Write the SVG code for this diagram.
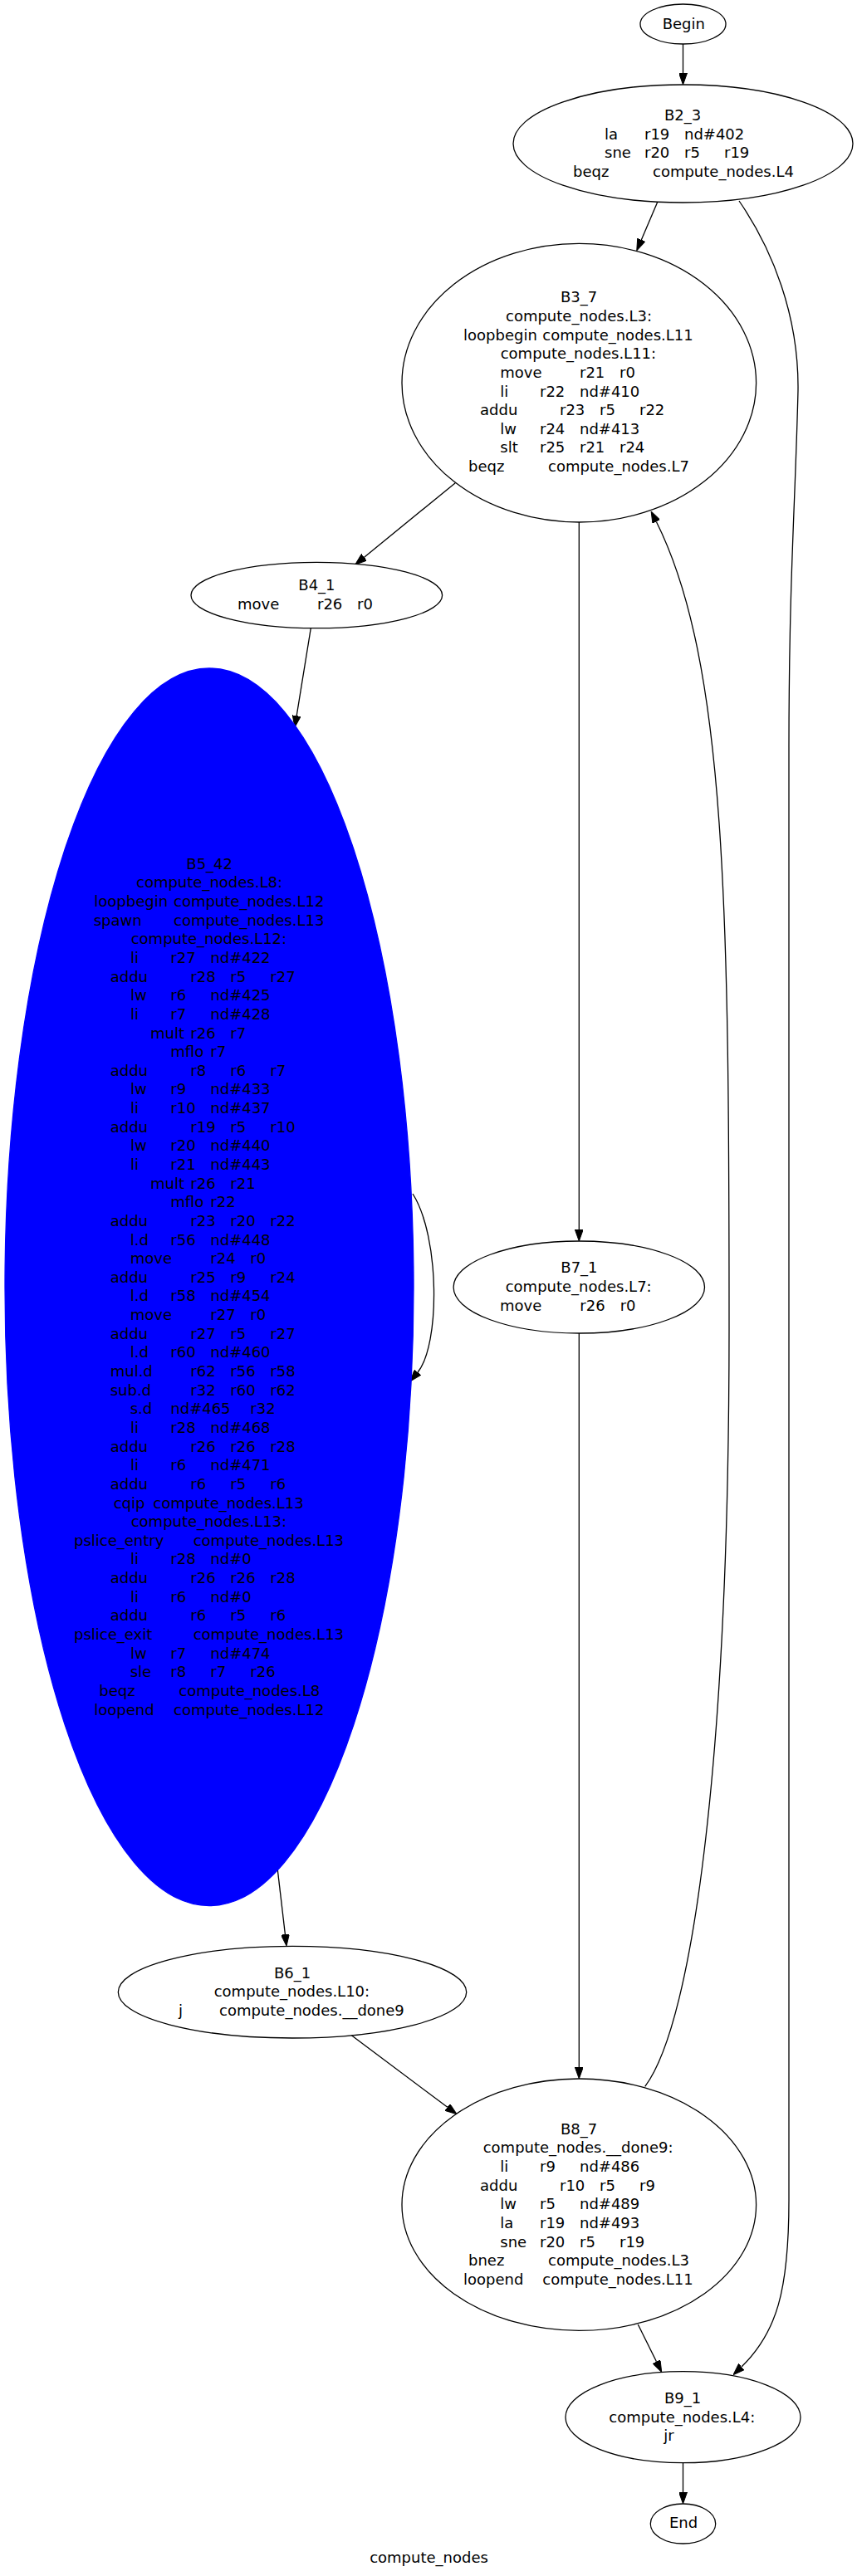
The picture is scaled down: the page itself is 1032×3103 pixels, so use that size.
<svg xmlns="http://www.w3.org/2000/svg" width="1032" height="3103" viewBox="0 0 1032 3103">
<style>
text{font-family:"DejaVu Sans","Liberation Sans",sans-serif;font-size:18px;fill:#000}
.n{fill:#fff;stroke:#000;stroke-width:1.3}
.blue{fill:#0000ff;stroke:#0000ff;stroke-width:1.3}
.e{fill:none;stroke:#000;stroke-width:1.3;marker-end:url(#ah)}
</style>
<defs>
<marker id="ah" viewBox="0 0 14 10" refX="0" refY="5" markerWidth="14" markerHeight="10" markerUnits="userSpaceOnUse" orient="auto">
<path d="M0,0 L14,5 L0,10 z" fill="#000" stroke="#000" stroke-width="1"/>
</marker>
</defs>
<rect width="1032" height="3103" fill="#fff"/>
<g id="edges">
<path class="e" d="M822.5,53 L822.5,88"/>
<path class="e" d="M791.7,243.5 L772.3,288.9"/>
<path class="e" d="M890,242 C930,300 962,380 961,470 C958,600 950,700 950,900 L950,2650 C950,2760 935,2810 893,2851"/>
<path class="e" d="M548.3,581.7 L438.6,671.2"/>
<path class="e" d="M697.3,629 L697.3,1481"/>
<path class="e" d="M374.3,756.7 L357.2,862.2"/>
<path class="e" d="M497,1438 C530,1490 530,1620 503,1653"/>
<path class="e" d="M334.3,2252.3 L343.4,2330.1"/>
<path class="e" d="M423.3,2451.7 L538.8,2538.3"/>
<path class="e" d="M697.3,1606 L697.3,2490"/>
<path class="e" d="M776.7,2513.3 C836.7,2433 878,2100 878,1600 C878,1100 875,798 790.4,628.5"/>
<path class="e" d="M768.3,2800 L790.5,2844.8"/>
<path class="e" d="M822.5,2966.7 L822.5,3002"/>
</g>
<g id="Begin">
<ellipse class="n" cx="822.5" cy="29" rx="51.5" ry="24"/>
<text x="797.7" y="35">Begin</text>
</g>
<g id="B2_3">
<ellipse class="n" cx="822.5" cy="173" rx="204.5" ry="71"/>
<text x="800" y="145">B2_3</text>
<text y="167.6"><tspan x="728">la</tspan><tspan x="776">r19</tspan><tspan x="824">nd#402</tspan></text>
<text y="190.3"><tspan x="728">sne</tspan><tspan x="776">r20</tspan><tspan x="824">r5</tspan><tspan x="872">r19</tspan></text>
<text y="212.9"><tspan x="690">beqz</tspan><tspan x="786">compute_nodes.L4</tspan></text>
</g>
<g id="B3_7">
<ellipse class="n" cx="697.3" cy="461.2" rx="213.3" ry="167.8"/>
<text x="675" y="364.3">B3_7</text>
<text x="609" y="386.9">compute_nodes.L3:</text>
<text y="409.6"><tspan x="558">loopbegin</tspan><tspan x="653.3">compute_nodes.L11</tspan></text>
<text x="602.7" y="432.2">compute_nodes.L11:</text>
<text y="454.9"><tspan x="602.3">move</tspan><tspan x="698">r21</tspan><tspan x="746">r0</tspan></text>
<text y="477.5"><tspan x="602.3">li</tspan><tspan x="650">r22</tspan><tspan x="698">nd#410</tspan></text>
<text y="500.1"><tspan x="578">addu</tspan><tspan x="674">r23</tspan><tspan x="722">r5</tspan><tspan x="770">r22</tspan></text>
<text y="522.8"><tspan x="602.3">lw</tspan><tspan x="650">r24</tspan><tspan x="698">nd#413</tspan></text>
<text y="545.4"><tspan x="602.3">slt</tspan><tspan x="650">r25</tspan><tspan x="698">r21</tspan><tspan x="746">r24</tspan></text>
<text y="568.1"><tspan x="564">beqz</tspan><tspan x="660">compute_nodes.L7</tspan></text>
</g>
<g id="B4_1">
<ellipse class="n" cx="381.3" cy="717" rx="151.3" ry="39.7"/>
<text x="359.3" y="711">B4_1</text>
<text y="733.6"><tspan x="286">move</tspan><tspan x="382">r26</tspan><tspan x="430">r0</tspan></text>
</g>
<g id="B5_42">
<ellipse class="blue" cx="252" cy="1550.3" rx="246" ry="745.3"/>
<text x="224.3" y="1046.7">B5_42</text>
<text x="164" y="1069.3">compute_nodes.L8:</text>
<text y="1092"><tspan x="113.3">loopbegin</tspan><tspan x="209">compute_nodes.L12</tspan></text>
<text y="1114.6"><tspan x="112.7">spawn</tspan><tspan x="209">compute_nodes.L13</tspan></text>
<text x="157.7" y="1137.3">compute_nodes.L12:</text>
<text y="1159.9"><tspan x="157">li</tspan><tspan x="205.3">r27</tspan><tspan x="253.3">nd#422</tspan></text>
<text y="1182.5"><tspan x="132.7">addu</tspan><tspan x="229.3">r28</tspan><tspan x="277.3">r5</tspan><tspan x="325.3">r27</tspan></text>
<text y="1205.2"><tspan x="157">lw</tspan><tspan x="205.3">r6</tspan><tspan x="253.3">nd#425</tspan></text>
<text y="1227.8"><tspan x="157">li</tspan><tspan x="205.3">r7</tspan><tspan x="253.3">nd#428</tspan></text>
<text y="1250.5"><tspan x="181">mult</tspan><tspan x="229.3">r26</tspan><tspan x="277.3">r7</tspan></text>
<text y="1273.1"><tspan x="205.3">mflo</tspan><tspan x="253.3">r7</tspan></text>
<text y="1295.7"><tspan x="132.7">addu</tspan><tspan x="229.3">r8</tspan><tspan x="277.3">r6</tspan><tspan x="325.3">r7</tspan></text>
<text y="1318.4"><tspan x="157">lw</tspan><tspan x="205.3">r9</tspan><tspan x="253.3">nd#433</tspan></text>
<text y="1341"><tspan x="157">li</tspan><tspan x="205.3">r10</tspan><tspan x="253.3">nd#437</tspan></text>
<text y="1363.7"><tspan x="132.7">addu</tspan><tspan x="229.3">r19</tspan><tspan x="277.3">r5</tspan><tspan x="325.3">r10</tspan></text>
<text y="1386.3"><tspan x="157">lw</tspan><tspan x="205.3">r20</tspan><tspan x="253.3">nd#440</tspan></text>
<text y="1408.9"><tspan x="157">li</tspan><tspan x="205.3">r21</tspan><tspan x="253.3">nd#443</tspan></text>
<text y="1431.6"><tspan x="181">mult</tspan><tspan x="229.3">r26</tspan><tspan x="277.3">r21</tspan></text>
<text y="1454.2"><tspan x="205.3">mflo</tspan><tspan x="253.3">r22</tspan></text>
<text y="1476.9"><tspan x="132.7">addu</tspan><tspan x="229.3">r23</tspan><tspan x="277.3">r20</tspan><tspan x="325.3">r22</tspan></text>
<text y="1499.5"><tspan x="156.7">l.d</tspan><tspan x="205.3">r56</tspan><tspan x="253.3">nd#448</tspan></text>
<text y="1522.1"><tspan x="156.7">move</tspan><tspan x="253.3">r24</tspan><tspan x="301.3">r0</tspan></text>
<text y="1544.8"><tspan x="132.7">addu</tspan><tspan x="229.3">r25</tspan><tspan x="277.3">r9</tspan><tspan x="325.3">r24</tspan></text>
<text y="1567.4"><tspan x="156.7">l.d</tspan><tspan x="205.3">r58</tspan><tspan x="253.3">nd#454</tspan></text>
<text y="1590.1"><tspan x="156.7">move</tspan><tspan x="253.3">r27</tspan><tspan x="301.3">r0</tspan></text>
<text y="1612.7"><tspan x="132.7">addu</tspan><tspan x="229.3">r27</tspan><tspan x="277.3">r5</tspan><tspan x="325.3">r27</tspan></text>
<text y="1635.3"><tspan x="156.7">l.d</tspan><tspan x="205.3">r60</tspan><tspan x="253.3">nd#460</tspan></text>
<text y="1658"><tspan x="132.7">mul.d</tspan><tspan x="229.3">r62</tspan><tspan x="277.3">r56</tspan><tspan x="325.3">r58</tspan></text>
<text y="1680.6"><tspan x="132.7">sub.d</tspan><tspan x="229.3">r32</tspan><tspan x="277.3">r60</tspan><tspan x="325.3">r62</tspan></text>
<text y="1703.3"><tspan x="156.7">s.d</tspan><tspan x="205.3">nd#465</tspan><tspan x="301.3">r32</tspan></text>
<text y="1725.9"><tspan x="157">li</tspan><tspan x="205.3">r28</tspan><tspan x="253.3">nd#468</tspan></text>
<text y="1748.5"><tspan x="132.7">addu</tspan><tspan x="229.3">r26</tspan><tspan x="277.3">r26</tspan><tspan x="325.3">r28</tspan></text>
<text y="1771.2"><tspan x="157">li</tspan><tspan x="205.3">r6</tspan><tspan x="253.3">nd#471</tspan></text>
<text y="1793.8"><tspan x="132.7">addu</tspan><tspan x="229.3">r6</tspan><tspan x="277.3">r5</tspan><tspan x="325.3">r6</tspan></text>
<text y="1816.5"><tspan x="136.7">cqip</tspan><tspan x="184.3">compute_nodes.L13</tspan></text>
<text x="157.7" y="1839.1">compute_nodes.L13:</text>
<text y="1861.7"><tspan x="89">pslice_entry</tspan><tspan x="232.7">compute_nodes.L13</tspan></text>
<text y="1884.4"><tspan x="157">li</tspan><tspan x="205.3">r28</tspan><tspan x="253.3">nd#0</tspan></text>
<text y="1907"><tspan x="132.7">addu</tspan><tspan x="229.3">r26</tspan><tspan x="277.3">r26</tspan><tspan x="325.3">r28</tspan></text>
<text y="1929.7"><tspan x="157">li</tspan><tspan x="205.3">r6</tspan><tspan x="253.3">nd#0</tspan></text>
<text y="1952.3"><tspan x="132.7">addu</tspan><tspan x="229.3">r6</tspan><tspan x="277.3">r5</tspan><tspan x="325.3">r6</tspan></text>
<text y="1974.9"><tspan x="89">pslice_exit</tspan><tspan x="232.7">compute_nodes.L13</tspan></text>
<text y="1997.6"><tspan x="157">lw</tspan><tspan x="205.3">r7</tspan><tspan x="253.3">nd#474</tspan></text>
<text y="2020.2"><tspan x="156.7">sle</tspan><tspan x="205.3">r8</tspan><tspan x="253.3">r7</tspan><tspan x="301.3">r26</tspan></text>
<text y="2042.9"><tspan x="119.3">beqz</tspan><tspan x="215.3">compute_nodes.L8</tspan></text>
<text y="2065.5"><tspan x="113.3">loopend</tspan><tspan x="209">compute_nodes.L12</tspan></text>
</g>
<g id="B7_1">
<ellipse class="n" cx="697.3" cy="1550.5" rx="151.2" ry="55.5"/>
<text x="675.3" y="1533.3">B7_1</text>
<text x="608.7" y="1556">compute_nodes.L7:</text>
<text y="1578.6"><tspan x="602">move</tspan><tspan x="698.3">r26</tspan><tspan x="746.7">r0</tspan></text>
</g>
<g id="B6_1">
<ellipse class="n" cx="352" cy="2399.7" rx="209.7" ry="55.3"/>
<text x="330" y="2382.7">B6_1</text>
<text x="257.7" y="2405.3">compute_nodes.L10:</text>
<text y="2428"><tspan x="215">j</tspan><tspan x="264">compute_nodes.__done9</tspan></text>
</g>
<g id="B8_7">
<ellipse class="n" cx="697.3" cy="2655.7" rx="213.3" ry="151.7"/>
<text x="675" y="2570.7">B8_7</text>
<text x="581.7" y="2593.3">compute_nodes.__done9:</text>
<text y="2616"><tspan x="602.3">li</tspan><tspan x="650">r9</tspan><tspan x="698">nd#486</tspan></text>
<text y="2638.6"><tspan x="578">addu</tspan><tspan x="674">r10</tspan><tspan x="722">r5</tspan><tspan x="770">r9</tspan></text>
<text y="2661.3"><tspan x="602.3">lw</tspan><tspan x="650">r5</tspan><tspan x="698">nd#489</tspan></text>
<text y="2683.9"><tspan x="602.3">la</tspan><tspan x="650">r19</tspan><tspan x="698">nd#493</tspan></text>
<text y="2706.5"><tspan x="602.3">sne</tspan><tspan x="650">r20</tspan><tspan x="698">r5</tspan><tspan x="746">r19</tspan></text>
<text y="2729.2"><tspan x="564">bnez</tspan><tspan x="660">compute_nodes.L3</tspan></text>
<text y="2751.8"><tspan x="558">loopend</tspan><tspan x="653.3">compute_nodes.L11</tspan></text>
</g>
<g id="B9_1">
<ellipse class="n" cx="822.5" cy="2911.7" rx="141.5" ry="55"/>
<text x="800" y="2895">B9_1</text>
<text x="733.3" y="2917.6">compute_nodes.L4:</text>
<text x="799.3" y="2940.3">jr</text>
</g>
<g id="End">
<ellipse class="n" cx="822.5" cy="3040" rx="39.2" ry="24"/>
<text x="806" y="3045">End</text>
</g>
<text x="516.5" y="3086.7" text-anchor="middle">compute_nodes</text>
</svg>
